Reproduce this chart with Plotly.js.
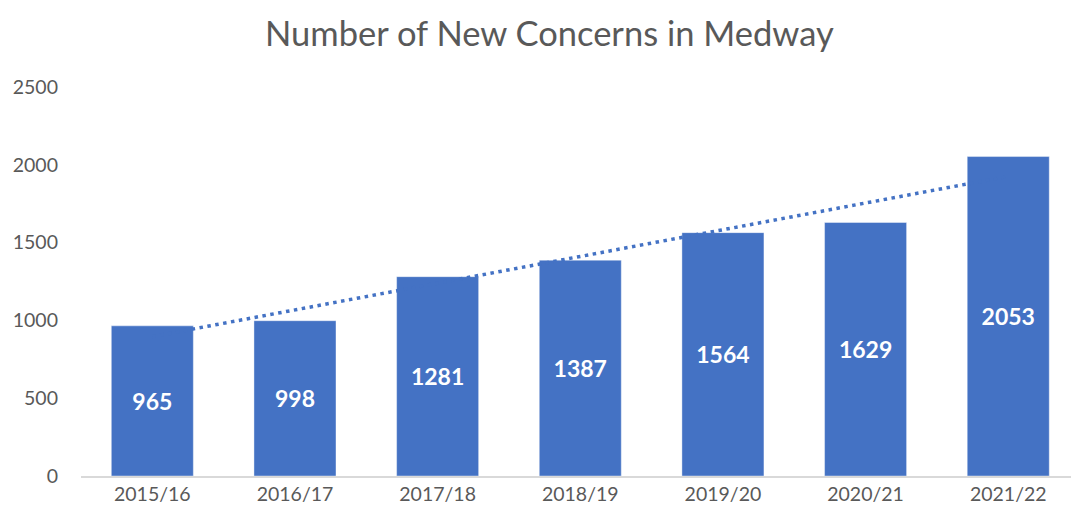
<!DOCTYPE html>
<html>
<head>
<meta charset="utf-8">
<script src="https://cdn.plot.ly/plotly-3.0.1.min.js"></script>
<style>html,body{margin:0;padding:0;background:#fff;}#chart{width:1071px;height:516px;}</style>
</head>
<body>
<div id="chart"></div>
<script>
var years = ["2015/16","2016/17","2017/18","2018/19","2019/20","2020/21","2021/22"];
var concerns = [965, 998, 1281, 1387, 1564, 1629, 2053];
var yTicks = [0, 500, 1000, 1500, 2000, 2500];

// linear trendline (least squares) over category index
var n = concerns.length, sx = 0, sy = 0, sxy = 0, sxx = 0;
for (var i = 0; i < n; i++) { sx += i; sy += concerns[i]; sxy += i * concerns[i]; sxx += i * i; }
var slope = (n * sxy - sx * sy) / (n * sxx - sx * sx);
var intercept = (sy - slope * sx) / n;
var trendX = years;
var trendY = years.map(function (_, i) { return intercept + slope * i; });

var blue = "#4472C4";
var trend = {
  type: "scatter", mode: "lines", x: trendX, y: trendY,
  line: {color: blue, width: 3.5, dash: "3.5px,4.5px"}, hoverinfo: "skip", showlegend: false
};
var bars = {
  type: "bar", x: years, y: concerns,
  marker: {color: blue, line: {color: "rgba(255,255,255,0.4)", width: 1}},
  text: concerns.map(String), textposition: "inside", insidetextanchor: "middle",
  textangle: 0,
  textfont: {family: "Lato, 'Open Sans', sans-serif", size: 23, color: "#ffffff", weight: "bold"},
  cliponaxis: false, showlegend: false
};
var layout = {
  width: 1071, height: 516,
  margin: {l: 81, r: 0, t: 87, b: 40},
  paper_bgcolor: "#ffffff", plot_bgcolor: "#ffffff",
  title: {text: "Number of New Concerns in Medway", x: 0.513, xanchor: "center", y: 0.935, yanchor: "middle",
          font: {family: "Lato, 'Open Sans', sans-serif", size: 34.5, color: "#595959"}},
  bargap: 0.425,
  xaxis: {type: "category", range: [-0.5, 6.44], showgrid: false, zeroline: false,
          showline: true, linecolor: "#d9d9d9", linewidth: 1.5, ticks: "",
          tickfont: {family: "Lato, 'Open Sans', sans-serif", size: 19.5, color: "#595959"}, fixedrange: true},
  yaxis: {range: [0, 2500], tickvals: yTicks, ticktext: yTicks.map(String), showgrid: false, zeroline: false,
          showline: false, ticks: "", ticklabelstandoff: 22,
          tickfont: {family: "Lato, 'Open Sans', sans-serif", size: 19.5, color: "#595959"}, fixedrange: true},
  showlegend: false
};
Plotly.newPlot("chart", [trend, bars], layout, {displayModeBar: false, staticPlot: true});
</script>
</body>
</html>
